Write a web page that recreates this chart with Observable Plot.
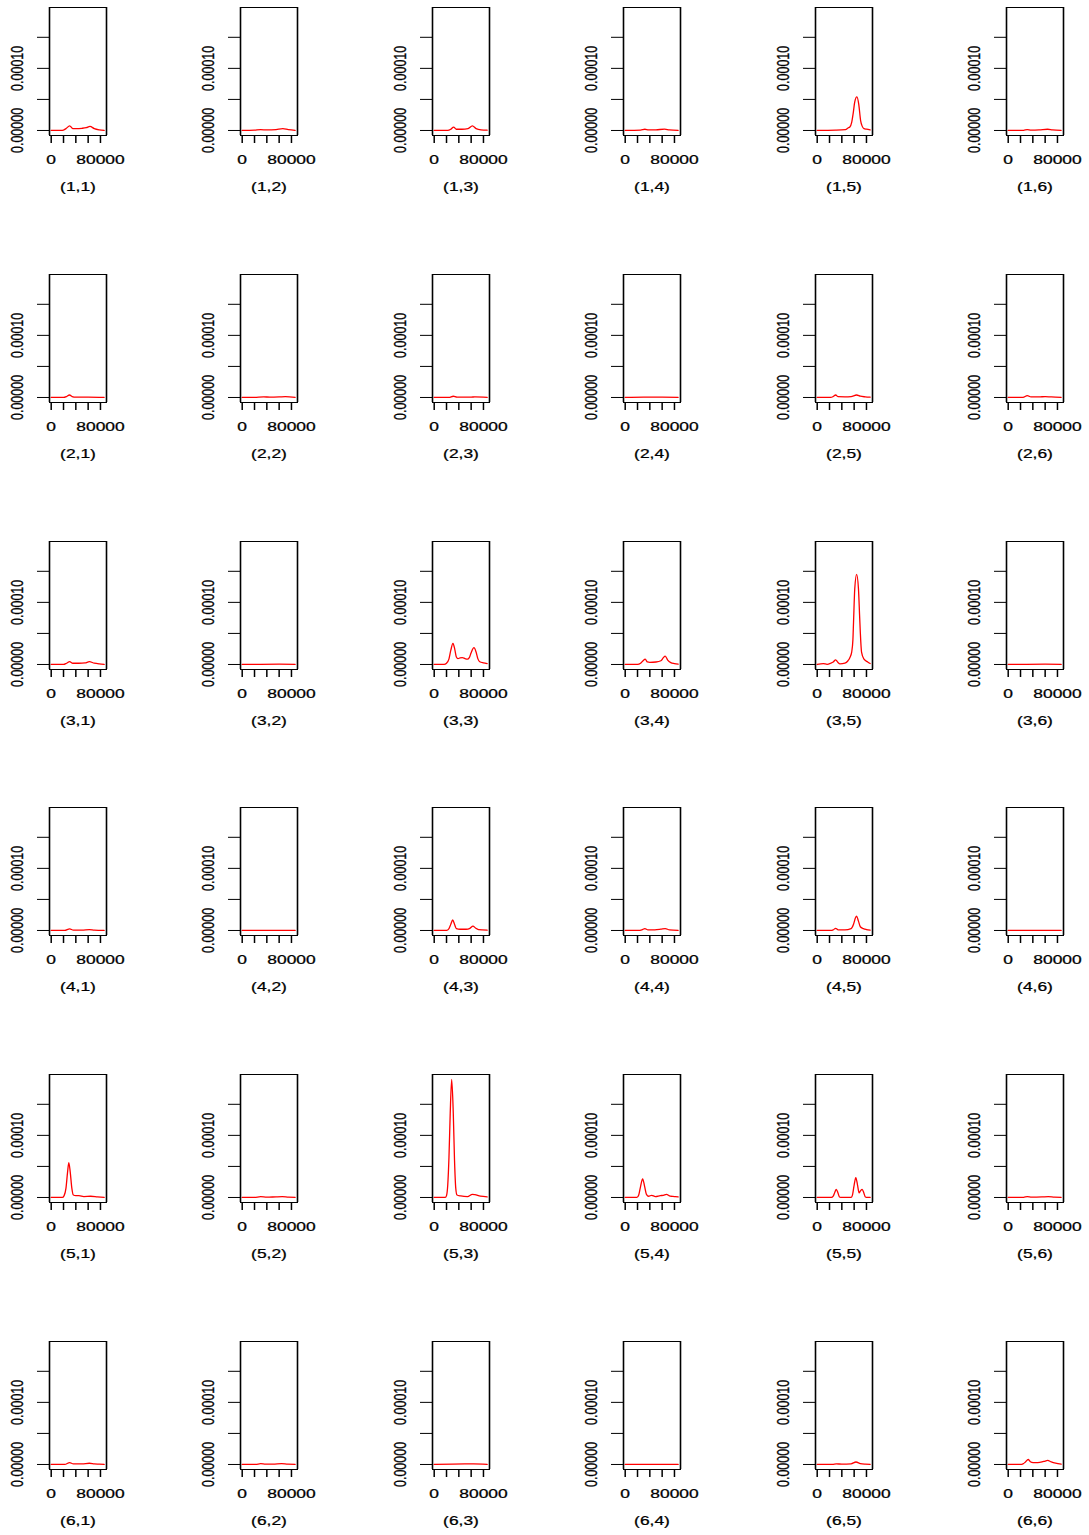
<!DOCTYPE html>
<html><head><meta charset="utf-8">
<script src="https://cdn.jsdelivr.net/npm/d3@7"></script>
<script src="https://cdn.jsdelivr.net/npm/@observablehq/plot@0.6"></script>
<style>
html,body{margin:0;padding:0;background:#fff;overflow:hidden;}
#grid{position:relative;width:1089px;height:1535px;background:#fff;}
#grid text{stroke:black;stroke-width:0.25px;}
</style></head><body><div id="grid"></div>
<script>
// Axis ticks and labels
const xTicks = [0, 20000, 40000, 60000, 80000];
const xTickLabels = ["0", "", "", "", "80000"];
const yTicks = [0, 0.00005, 0.0001, 0.00015];
const yTickLabels = ["0.00000", "", "0.00010", ""];
const rowIds = [1, 2, 3, 4, 5, 6];
const colIds = [1, 2, 3, 4, 5, 6];

// Density curves: [x in thousands, density in units of 1e-5]
const row1 = [
  [[0,0],[18,0],[24,0.3],[30,0.75],[35,0.3],[40,0.3],[50,0.35],[57,0.45],[63,0.65],[70,0.3],[78,0.1],[86,0]],
  [[0,0],[20,0.05],[30,0.12],[40,0.08],[55,0.15],[66,0.3],[75,0.12],[86,0.03]],
  [[0,0],[22,0],[27,0.2],[31.5,0.55],[36,0.2],[45,0.2],[55,0.3],[62,0.75],[68,0.3],[76,0.1],[86,0.05]],
  [[0,0],[25,0.05],[32,0.2],[38,0.08],[50,0.1],[64,0.22],[72,0.08],[86,0.02]],
  [[0,0],[30,0.05],[46,0.15],[50,0.4],[53,0.55],[56,1.3],[58.5,2.8],[61,4.6],[64.5,5.4],[67.5,4.2],[70.5,1.6],[73,0.7],[76,0.3],[80,0.2],[86,0.1]],
  [[0,0],[25,0.03],[31,0.15],[37,0.05],[50,0.08],[64,0.2],[72,0.1],[86,0.02]]
];
const row2 = [
  [[0,0],[20,0],[25,0.15],[29.7,0.4],[34,0.15],[40,0.05],[60,0.07],[86,0.03]],
  [[0,0],[20,0.02],[35,0.1],[45,0.05],[60,0.08],[70,0.12],[86,0.03]],
  [[0,0],[24,0.02],[31,0.2],[37,0.05],[60,0.05],[66,0.1],[86,0.02]],
  [[0,0],[30,0.05],[60,0.05],[86,0.02]],
  [[0,0],[22,0],[26,0.15],[30,0.4],[34,0.12],[45,0.1],[55,0.15],[64,0.4],[70,0.2],[78,0.1],[86,0.05]],
  [[0,0],[24,0.02],[31,0.3],[37,0.08],[50,0.08],[60,0.15],[70,0.08],[86,0.03]]
];
const row3 = [
  [[0,0],[20,0],[25,0.2],[30,0.45],[35,0.2],[45,0.2],[55,0.25],[62,0.45],[70,0.2],[78,0.08],[86,0.02]],
  [[0,0],[30,0.03],[60,0.05],[86,0.02]],
  [[0,0],[16,0],[20,0.2],[24,0.9],[27,2.3],[30.5,3.4],[33.5,2.4],[36,1.2],[38.6,0.95],[42,1.05],[45.7,1.1],[50,0.95],[53.8,0.85],[57,1.1],[60,1.9],[64.6,2.7],[68,2],[71,0.9],[74,0.43],[80,0.25],[86,0.15]],
  [[0,0],[20,0],[25,0.2],[29,0.6],[32.5,0.85],[36,0.4],[40,0.35],[50,0.4],[58,0.6],[62,1.1],[65,1.35],[69,0.7],[74,0.3],[80,0.15],[86,0.05]],
  [[0,0],[10,0.15],[16,0.02],[22,0.2],[26,0.4],[30,0.75],[33.5,0.35],[37,0.1],[45,0.2],[50,0.6],[53,1.1],[56,2.0],[58,4.0],[59,6.8],[61,12.2],[64,14.5],[67,12.2],[69,7.5],[70,5.2],[72,2],[76,0.85],[82,0.4],[86,0.15]],
  [[0,0],[30,0.02],[60,0.04],[86,0.01]]
];
const row4 = [
  [[0,0],[22,0],[30,0.25],[36,0.05],[50,0.05],[62,0.15],[70,0.05],[86,0]],
  [[0,0],[40,0.03],[86,0.01]],
  [[0,0],[20,0],[24,0.3],[27,1.0],[30,1.7],[33,1.0],[36,0.3],[42,0.2],[52,0.2],[58,0.35],[63,0.7],[67,0.4],[72,0.15],[86,0.05]],
  [[0,0],[22,0],[27,0.1],[32,0.3],[37,0.1],[48,0.1],[58,0.2],[65,0.3],[72,0.1],[86,0.03]],
  [[0,0],[22,0],[26,0.1],[30,0.35],[34,0.1],[45,0.1],[55,0.3],[59,1.0],[62,2.0],[64,2.3],[67,1.5],[70,0.6],[75,0.3],[80,0.15],[86,0.05]],
  [[0,0],[43,0.01],[86,0]]
];
const row5 = [
  [[0,0],[18,0],[21,0.3],[24,1.5],[26.5,4],[28.6,5.6],[31,4],[33.5,1.5],[36,0.4],[40,0.3],[45,0.3],[53,0.15],[64,0.2],[75,0.1],[86,0]],
  [[0,0],[20,0.02],[30,0.12],[40,0.05],[55,0.1],[65,0.12],[75,0.05],[86,0.02]],
  [[0,0],[18,0],[20,0.3],[22,2],[24,6.5],[26,13.5],[28.4,19.0],[31,13.5],[33,6],[35,1.5],[37,0.4],[43,0.25],[54,0.15],[62,0.5],[66,0.45],[75,0.2],[86,0.1]],
  [[0,0],[19,0],[22,0.4],[25,1.8],[28.3,3.0],[31.5,1.8],[34.5,0.5],[38,0.2],[43,0.35],[49,0.15],[57,0.3],[62,0.35],[67,0.5],[73,0.2],[80,0.15],[86,0.1]],
  [[0,0],[23,0],[26,0.2],[28.5,0.8],[31,1.3],[33.5,0.8],[36,0.1],[38,0],[55,0],[57,0.3],[60,2],[62.7,3.2],[65.5,2],[68,0.75],[70.5,1.1],[73,1.3],[75.5,0.8],[78,0.1],[80,0],[86,0]],
  [[0,0],[25,0.03],[31,0.15],[38,0.05],[55,0.08],[65,0.12],[75,0.05],[86,0.02]]
];
const row6 = [
  [[0,0],[22,0],[30,0.3],[36,0.1],[50,0.1],[62,0.2],[70,0.1],[78,0.05],[86,0]],
  [[0,0],[22,0.02],[30,0.12],[38,0.05],[50,0.05],[64,0.15],[74,0.05],[86,0.02]],
  [[0,0],[30,0.05],[50,0.08],[64,0.1],[86,0.02]],
  [[0,0],[40,0.01],[86,0]],
  [[0,0],[25,0.02],[31,0.1],[40,0.05],[55,0.1],[63,0.4],[70,0.15],[78,0.05],[86,0.02]],
  [[0,0],[20,0],[24,0.1],[28,0.4],[32.4,0.8],[36,0.45],[40.5,0.3],[48,0.3],[55,0.4],[60,0.55],[64,0.65],[70,0.4],[77,0.2],[86,0.05]]
];
const rows = [row1, row2, row3, row4, row5, row6];

const xDomain = [-2760, 89800];
const yDomain = [-0.0000081, 0.000198];
const colPitch = 191.4, rowPitch = 266.8;
const font = "'Liberation Sans', Arial, Helvetica, sans-serif";

const grid = document.getElementById("grid");
rows.forEach((row, i) => {
  row.forEach((pts, j) => {
    const data = pts.map(([x, y]) => ({x: x * 1000, y: y * 1e-5}));
    const yLab = yTicks.map((v, k) => ({v, t: yTickLabels[k]})).filter(d => d.t);
    const svg = Plot.plot({
      width: 130, height: 195,
      marginLeft: 49, marginRight: 24, marginTop: 7, marginBottom: 60,
      x: {domain: xDomain},
      y: {domain: yDomain},
      style: {fontFamily: font, fontSize: "12px", color: "black", background: "white", overflow: "visible"},
      marks: [
        Plot.axisY({ticks: yTicks, tickSize: 12, tickFormat: () => "", label: null, strokeWidth: 1}),
        Plot.axisX({ticks: xTicks, tickSize: 8, tickPadding: 11.5, strokeWidth: 1.5, fontSize: 12,
          tickFormat: (d) => xTickLabels[xTicks.indexOf(d)], label: null}),
        Plot.text(yLab, {frameAnchor: "left", y: "v", text: "t", rotate: -90, dx: -31.5,
          textAnchor: "middle", lineAnchor: "middle", fontSize: 12.5, fill: "black"}),
        Plot.line(data, {x: "x", y: "y", stroke: "#ff0000", strokeWidth: 1.3, curve: "monotone-x"}),
        Plot.frame({stroke: "black", strokeWidth: 1}),
        Plot.ruleX(xDomain, {stroke: "black", strokeWidth: 1.6}),
        Plot.text([`(${rowIds[i]},${colIds[j]})`], {frameAnchor: "bottom", dy: 52, lineAnchor: "middle", fontSize: 12, fill: "black"})
      ]
    });
    svg.querySelectorAll("text").forEach(t => {
      const tr = t.getAttribute("transform") || "";
      if (tr.includes("rotate")) t.setAttribute("transform", tr + " scale(1,1.3)");
      else t.setAttribute("transform", tr + " scale(1.45,1)");
    });
    svg.style.position = "absolute";
    svg.style.left = (colPitch * j) + "px";
    svg.style.top = (rowPitch * i) + "px";
    grid.appendChild(svg);
  });
});
</script></body></html>
